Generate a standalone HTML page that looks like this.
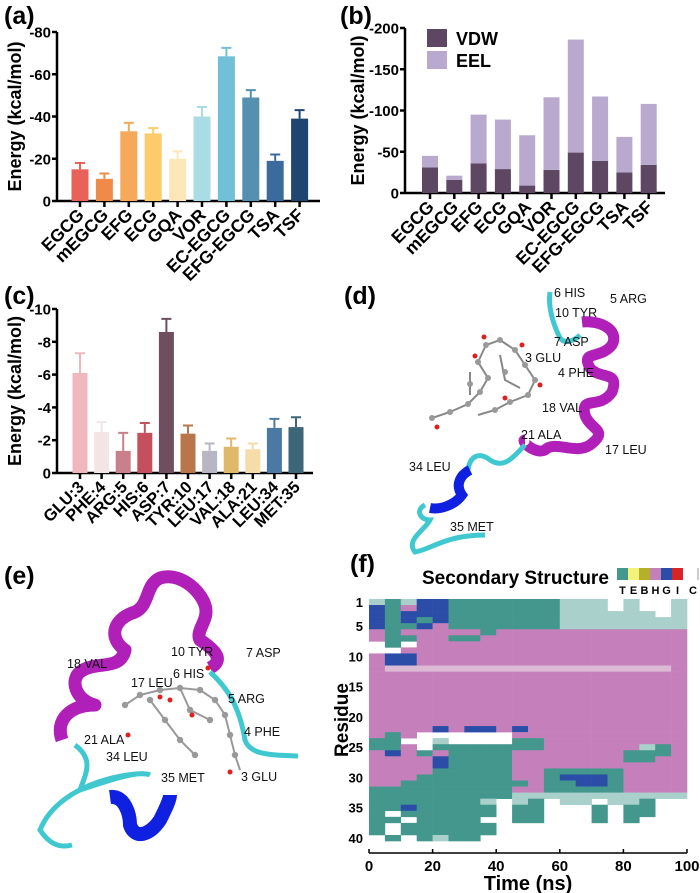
<!DOCTYPE html>
<html><head><meta charset="utf-8">
<style>
html,body{margin:0;padding:0;background:#fff;}
svg{display:block;font-family:"Liberation Sans",Arial,sans-serif;}
</style></head>
<body>
<svg id="fig" width="700" height="893" viewBox="0 0 700 893" xmlns="http://www.w3.org/2000/svg">
<g font-weight="bold" font-size="25" fill="#000">
<text x="4" y="24">(a)</text>
<text x="340" y="24">(b)</text>
<text x="4" y="304">(c)</text>
<text x="344" y="304">(d)</text>
<text x="4" y="584">(e)</text>
<text x="350" y="572">(f)</text>
</g>
<g id="pa"></g>
<g id="pb"></g>
<g id="pc"></g>

<g>
 <g stroke="#888" stroke-width="2" fill="none">
  <path d="M432,418 L450,412 L468,404 L480,392 L488,378 L478,362 L486,345 L500,340 L515,350 L525,365 L535,380 L528,395 L510,402 L495,410 L478,415 M470,372 L470,395 M500,355 L505,380 L520,388"/>
 </g>
 <g fill="#999">
  <circle cx="432" cy="418" r="3"/><circle cx="450" cy="412" r="3"/><circle cx="468" cy="404" r="3"/><circle cx="480" cy="392" r="3"/><circle cx="488" cy="378" r="3"/><circle cx="478" cy="362" r="3"/><circle cx="486" cy="345" r="3"/><circle cx="500" cy="340" r="3"/><circle cx="515" cy="350" r="3"/><circle cx="525" cy="365" r="3"/><circle cx="535" cy="380" r="3"/><circle cx="528" cy="395" r="3"/><circle cx="510" cy="402" r="3"/><circle cx="495" cy="410" r="3"/><circle cx="470" cy="384" r="3"/><circle cx="505" cy="372" r="3"/>
 </g>
 <g fill="#e02020">
  <circle cx="437" cy="427" r="2.5"/><circle cx="484" cy="337" r="2.5"/><circle cx="522" cy="345" r="2.5"/><circle cx="540" cy="385" r="2.5"/><circle cx="505" cy="398" r="2.5"/><circle cx="475" cy="356" r="2.5"/>
 </g>
 <path d="M550,292 C548,305 552,322 560,338 C565,345 575,340 580,335" stroke="#40c8d0" stroke-width="5" fill="none"/>
 <path d="M582,322 C600,320 620,330 612,345 C600,360 580,350 590,368 C600,380 620,370 612,392 C600,410 580,395 585,415 C590,430 610,430 590,445 C575,455 555,440 545,450 C535,455 520,440 525,440" stroke="#b020b8" stroke-width="11" fill="none" stroke-linejoin="round"/>
 <path d="M525,445 C515,455 505,470 490,460 C480,452 470,455 468,470" stroke="#40c8d0" stroke-width="5" fill="none"/>
 <path d="M470,470 C460,475 455,485 462,495 C455,505 440,510 430,508" stroke="#1020e0" stroke-width="10" fill="none"/>
 <path d="M425,505 C415,510 420,520 430,520 C425,530 405,540 415,552 C430,550 445,535 485,535" stroke="#40c8d0" stroke-width="5" fill="none"/>
 <g font-size="12.5" fill="#111">
  <text x="554" y="297">6 HIS</text>
  <text x="610" y="303">5 ARG</text>
  <text x="555" y="317">10 TYR</text>
  <text x="554" y="346">7 ASP</text>
  <text x="525" y="362">3 GLU</text>
  <text x="558" y="377">4 PHE</text>
  <text x="542" y="412">18 VAL</text>
  <text x="521" y="439">21 ALA</text>
  <text x="605" y="454">17 LEU</text>
  <text x="409" y="471">34 LEU</text>
  <text x="450" y="531">35 MET</text>
 </g>
</g>

<g>
 <path d="M62,740 C55,720 70,705 95,705 C75,700 70,680 80,672 C95,660 120,672 125,650 C110,640 110,620 135,612 C150,605 145,585 160,578 C180,572 200,590 205,605 C210,620 195,630 200,640 C215,650 225,660 210,668" stroke="#b020b8" stroke-width="13" fill="none" stroke-linejoin="round"/>
 <path d="M210,672 C230,690 240,710 245,740 C250,755 270,755 298,756" stroke="#40c8d0" stroke-width="5" fill="none"/>
 <path d="M75,745 C95,760 85,775 80,790 C110,780 140,770 150,775 C140,770 60,780 40,830 C50,845 60,848 72,845" stroke="#40c8d0" stroke-width="5" fill="none"/>
 <path d="M110,797 C125,795 130,815 130,825 C135,840 150,835 160,820 C165,810 170,800 170,795" stroke="#1020e0" stroke-width="14" fill="none"/>
 <g stroke="#999" stroke-width="2" fill="none">
  <path d="M125,705 L140,695 L160,690 L180,688 L200,690 L215,700 L225,715 L230,735 L235,755 L240,770 M150,700 L165,720 L180,740 L195,755 M180,688 L190,710 L210,720"/>
 </g>
 <g fill="#999">
  <circle cx="125" cy="705" r="3.2"/><circle cx="140" cy="695" r="3.2"/><circle cx="160" cy="690" r="3.2"/><circle cx="180" cy="688" r="3.2"/><circle cx="200" cy="690" r="3.2"/><circle cx="215" cy="700" r="3.2"/><circle cx="225" cy="715" r="3.2"/><circle cx="230" cy="735" r="3.2"/><circle cx="235" cy="755" r="3.2"/><circle cx="150" cy="700" r="3.2"/><circle cx="165" cy="720" r="3.2"/><circle cx="180" cy="740" r="3.2"/><circle cx="195" cy="755" r="3.2"/><circle cx="190" cy="710" r="3.2"/><circle cx="210" cy="720" r="3.2"/>
 </g>
 <g fill="#e02020">
  <circle cx="160" cy="697" r="2.5"/><circle cx="192" cy="715" r="2.5"/><circle cx="208" cy="668" r="2.5"/><circle cx="230" cy="772" r="2.5"/><circle cx="128" cy="735" r="2.5"/><circle cx="170" cy="700" r="2.5"/>
 </g>
 <g font-size="12.5" fill="#111">
  <text x="171" y="656">10 TYR</text>
  <text x="246" y="657">7 ASP</text>
  <text x="67" y="668">18 VAL</text>
  <text x="173" y="678">6 HIS</text>
  <text x="131" y="687">17 LEU</text>
  <text x="228" y="703">5 ARG</text>
  <text x="244" y="736">4 PHE</text>
  <text x="84" y="744">21 ALA</text>
  <text x="106" y="761">34 LEU</text>
  <text x="161" y="782">35 MET</text>
  <text x="241" y="781">3 GLU</text>
 </g>
</g>

<g id="pf"></g>
</svg>
<script>
const aCategories = ["EGCG","mEGCG","EFG","ECG","GQA","VOR","EC-EGCG","EFG-EGCG","TSA","TSF"];
const aValues = [15,10.5,33,32,20,40,68.5,49,19,39];
const aErrors = [3,2.5,4,2.5,3.5,4.5,4,3.5,3,4];
const aTicks = [0,20,40,60,80];
const aColors = ["#e8625a","#f08a48","#f7a95a","#fccb6a","#fde7b8","#a9dde3","#72bfd8","#5690b0","#3b6b9c","#1e4670"];
const bCategories = ["EGCG","mEGCG","EFG","ECG","GQA","VOR","EC-EGCG","EFG-EGCG","TSA","TSF"];
const bVDW = [31,16,36,29,9,28,49,39,25,34];
const bEEL = [14,5,59,60,61,88,137,78,43,74];
const bTicks = [0,50,100,150,200];
const cCategories = ["GLU:3","PHE:4","ARG:5","HIS:6","ASP:7","TYR:10","LEU:17","VAL:18","ALA:21","LEU:34","MET:35"];
const cValues = [6.1,2.5,1.35,2.45,8.6,2.4,1.35,1.6,1.45,2.75,2.8];
const cErrors = [1.2,0.6,1.1,0.6,0.8,0.5,0.45,0.5,0.35,0.55,0.6];
const cTicks = [0,2,4,6,8,10];
const cColors = ["#f0b7bd","#f3e5e6","#c9808a","#c4505e","#6e4e5f","#b8764a","#b8b6c5","#e0b86a","#f5dca8","#4a7aa3","#3d6678"];
const fTimeTicks = [0,20,40,60,80,100];
const fResidueTicks = [1,5,10,15,20,25,30,35,40];
const fRows = [
"tTtGGTTTTTTTtttCtCCt","GTHGGTTTTTTTtttCtCCt","GTGGGTTTTTTTttttttCt","GTGTGTTTTTTTtttttttt","GTTGHTTTTTTTtttttttt",
"HTHHHHHTHHHHHHHHHHHH","HTTHHTTHHHHHHHHHHHHH","CTCHHHHHHHHHHHHHHHHH","CCHHHHHHHHHHHHHHHHHH","HGGHHHHHHHHHHHHHHHHH",
"HGGHHHHHHHHHHHHHHHHH","HhhhhhhhhhhhhhhhhhhH","HHHHHHHHHHHHHHHHHHHH","HHHHHHHHHHHHHHHHHHHH","HHHHHHHHHHHHHHHHHHHH",
"HHHHHHHHHHHHHHHHHHHH","HHHHHHHHHHHHHHHHHHHH","HHHHHHHHHHHHHHHHHHHH","HHHHHHHHHHHHHHHHHHHH","HHHHHHHHHHHHHHHHHHHH",
"HHHHHHHHHHHHHHHHHHHH","HHHHGHGGHGHHHHHHHHHH","HTHCCCCCCHHHHHHHHHHH","TTCCtCCCCTTHHHHHHHHH","TTHCTTTTTTTHHHHHHtTH",
"HGHTHTTTTHHHHHHHTTTH","HHHHGTTTTHHHHHHHTTHH","HHHHGTTTTHHHHHHHHHHH","HHHHTTTTTHHTTTTTHHHH","HHHTTTTTTHHTGGGTHHHH",
"HHTTTTTTTTHTTGGTHHHH","TTTTTTTTTHHTTTTTHHHH","TTTTTTTTTttttttttttt","TTTTTTTtCtTCttCttTCC","TTGTTTTTCTTCCCTCTTCC",
"TCTTTTTTCTTCCCTCTTCC","TTCTTTTCCTTCCCTCTCCC","TCTTTTTTCCCCCCCCCCCC","TCTTTTTTCCCCCCCCCCCC","CTCTtTTCCCCCCCCCCCCC"];
const fLegendCodes = ["T","E","B","H","G","I","C"];

const NS="http://www.w3.org/2000/svg";
function mk(parent,tag,attrs){const e=document.createElementNS(NS,tag);for(const k in attrs)e.setAttribute(k,attrs[k]);parent.appendChild(e);return e;}

function axes(g,x0,x1,yTop,yBot,ticks,maxV,fmt,title,titleX){
  const ys=v=>yBot-(v/maxV)*(yBot-yTop);
  const yax=mk(g,'line',{x1:x0,y1:yTop,x2:x0,y2:yBot,stroke:'#000','stroke-width':2.5});
  
  
  const xax=mk(g,'line',{x1:x0,y1:yBot,x2:x1,y2:yBot,stroke:'#000','stroke-width':2.5});
  
  
  ticks.forEach(t=>{
    mk(g,'line',{x1:x0-5,y1:ys(t),x2:x0,y2:ys(t),stroke:'#000','stroke-width':2.5});
    const tx=mk(g,'text',{x:x0-6,y:ys(t)+5.5,'text-anchor':'end','font-size':15,'font-weight':'bold'});
    tx.textContent=fmt(t);
    
    
  });
  const cy=(yTop+yBot)/2;
  const tt=mk(g,'text',{x:titleX,y:cy,'text-anchor':'middle','font-size':18,'font-weight':'bold',transform:`rotate(-90 ${titleX} ${cy})`});
  tt.textContent=title;
  
  
  return ys;
}
function catLabels(g,cats,xs,yBot,fs){
  cats.forEach((c,i)=>{
    mk(g,'line',{x1:xs(i),y1:yBot,x2:xs(i),y2:yBot+6,stroke:'#000','stroke-width':2.5});
    const lx=xs(i)+5,ly=yBot+15;
    const t=mk(g,'text',{x:lx,y:ly,'text-anchor':'end','font-size':fs,'font-weight':'bold',transform:`rotate(-45 ${lx} ${ly})`});
    t.textContent=c;
    
    
  });
}
function errBarChart(g,cats,vals,errs,cols,ticks,maxV,x0,x1,yTop,yBot,first,step,bw,titleX,fs){
  const ys=axes(g,x0,x1,yTop,yBot,ticks,maxV,t=>t===0?'0':'-'+t,'Energy (kcal/mol)',titleX);
  const xs=i=>first+i*step;
  vals.forEach((v,i)=>{
    const top=ys(v+errs[i]);
    const e=mk(g,'path',{d:`M${xs(i)},${ys(v)} V${top} M${xs(i)-5},${top} H${xs(i)+5}`,stroke:cols[i],'stroke-width':2,fill:'none'});
    
    
    const r=mk(g,'rect',{x:xs(i)-bw/2,y:ys(v),width:bw,height:yBot-ys(v),fill:cols[i]});
    
    
  });
  catLabels(g,cats,xs,yBot,fs);
}
errBarChart(document.getElementById('pa'),aCategories,aValues,aErrors,aColors,aTicks,80,57,320,32,201,80,24.4,17,21,17.5);
errBarChart(document.getElementById('pc'),cCategories,cValues,cErrors,cColors,cTicks,10,57,313,309,473,80,21.6,15,21,16.5);

(function(){
  const g=document.getElementById('pb');
  const x0=405,x1=665,yTop=28,yBot=193;
  const ys=axes(g,x0,x1,yTop,yBot,bTicks,200,t=>t===0?'0':'-'+t,'Energy (kcal/mol)',364);
  const xs=i=>430+i*24.3, bw=16;
  bCategories.forEach((c,i)=>{
    const r1=mk(g,'rect',{x:xs(i)-bw/2,y:ys(bVDW[i]),width:bw,height:yBot-ys(bVDW[i]),fill:'#5d4763'});
    
    
    const tot=bVDW[i]+bEEL[i];
    const r2=mk(g,'rect',{x:xs(i)-bw/2,y:ys(tot),width:bw,height:ys(bVDW[i])-ys(tot),fill:'#b9a9cf'});
    
    
  });
  catLabels(g,bCategories,xs,yBot,17.5);
  [['VDW','#5d4763',38],['EEL','#b9a9cf',60]].forEach(([n,c,y])=>{
    const s=mk(g,'rect',{x:427,y:y-9,width:20,height:18,fill:c});
    
    
    const t=mk(g,'text',{x:456,y:y+7,'font-size':18,'font-weight':'bold'});
    t.textContent=n;
    
    
  });
})();

(function(){
  const g=document.getElementById('pf');
  const X0=369,X1=687,Y1=602,Y40=838;
  const rh=(Y40-Y1)/39;
  const xs=t=>X0+(t/100)*(X1-X0);
  const yr=r=>Y1+(r-1)*rh;
  const col={T:'#43978d',H:'#c580bb',G:'#2b4da8',C:'#ffffff',t:'#a9d0cb',h:'#dcbad6',E:'#f4f27a',B:'#b4b02a',I:'#d92424'};
  fRows.forEach((row,ri)=>{
    const n=row.length;
    for(let b=0;b<n;b++){
      const c=row[b];if(c==='C')continue;
      const r=mk(g,'rect',{x:xs(b*100/n),y:yr(ri+1)-rh/2,width:xs((b+1)*100/n)-xs(b*100/n)+0.3,height:rh+0.3,fill:col[c]});
      
      
    }
  });
  const ax=mk(g,'line',{x1:X0,y1:853,x2:X1,y2:853,stroke:'#000','stroke-width':1.5});
  
  
  fTimeTicks.forEach(t=>{
    mk(g,'line',{x1:xs(t),y1:849,x2:xs(t),y2:853,stroke:'#000','stroke-width':1.5});
    const tx=mk(g,'text',{x:xs(t),y:871,'text-anchor':'middle','font-size':15,'font-weight':'bold'});
    tx.textContent=t;
    
    
  });
  fResidueTicks.forEach(r=>{
    const tx=mk(g,'text',{x:363,y:yr(r)+5,'text-anchor':'end','font-size':13,'font-weight':'bold'});
    tx.textContent=r;
    
    
  });
  const xt=mk(g,'text',{x:528,y:890,'text-anchor':'middle','font-size':20,'font-weight':'bold'});
  xt.textContent='Time (ns)';
  
  
  const yt=mk(g,'text',{x:348,y:720,'text-anchor':'middle','font-size':19,'font-weight':'bold',transform:'rotate(-90 348 720)'});
  yt.textContent='Residue';
  
  
  const st=mk(g,'text',{x:422,y:584,'font-size':19,'font-weight':'bold'});
  st.textContent='Secondary Structure';
  
  
  fLegendCodes.forEach((c,i)=>{
    const x=617+i*11;
    if(c!=='C'){
      const s=mk(g,'rect',{x:x,y:568,width:11,height:12,fill:col[c]});
      
      
    } else {
      mk(g,'line',{x1:x+15,y1:568,x2:x+15,y2:580,stroke:'#bbb','stroke-width':1.5});
    }
    const t=mk(g,'text',{x:c==='C'?x+10:x+5.5,y:594,'text-anchor':'middle','font-size':11,'font-weight':'bold'});
    t.textContent=c;
    
    
  });
})();
</script>
</body></html>
